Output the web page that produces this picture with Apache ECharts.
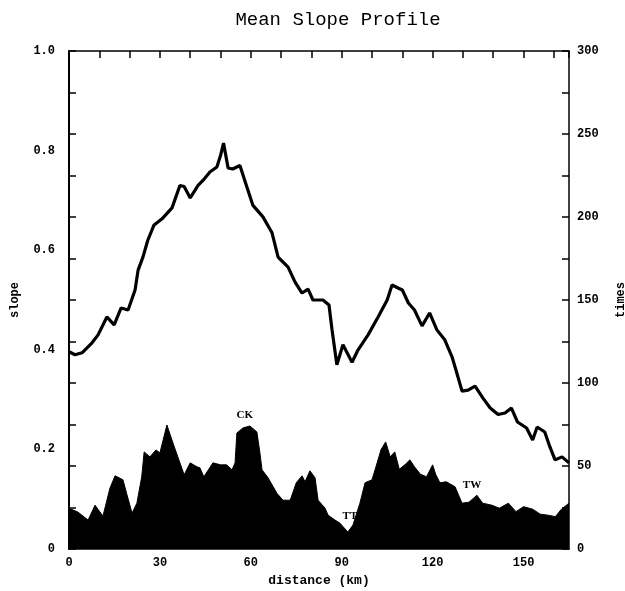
<!DOCTYPE html>
<html>
<head>
<meta charset="utf-8">
<script src="https://cdn.jsdelivr.net/npm/echarts@6/dist/echarts.min.js"></script>
<style>html,body{margin:0;padding:0;background:#fff}#c{width:625px;height:591px}</style>
</head>
<body>
<div id="c"></div>
<script>
// distance (km) and mean slope for the profile line
var lineKm = [0,2,4.3,7.6,9.6,12.5,14.9,17.2,19.5,21.8,22.8,24.4,26,28,30.7,34,36.6,38,40,42.6,44.2,46.5,48.8,50,51,52.5,54,56.4,58.7,60.7,64,67,69,72.3,74.6,76.9,78.9,80.5,83.8,85.8,86.8,88.4,90.4,93.4,95.4,98.7,102,105,106.6,108.6,110,112,114,116.5,119,121.4,124,126.4,128,129.7,131.7,134,136.6,139,141.6,143.9,146,148,151,153,154.5,157,158.7,160.4,162.7,165];
var slopeVals = [0.396,0.39,0.394,0.414,0.43,0.466,0.45,0.484,0.48,0.52,0.56,0.586,0.62,0.65,0.663,0.685,0.73,0.728,0.705,0.73,0.74,0.757,0.767,0.79,0.815,0.765,0.763,0.77,0.727,0.69,0.667,0.635,0.586,0.566,0.536,0.514,0.522,0.5,0.5,0.49,0.44,0.37,0.41,0.375,0.4,0.43,0.466,0.5,0.53,0.524,0.52,0.494,0.48,0.448,0.474,0.44,0.42,0.386,0.353,0.317,0.319,0.327,0.303,0.283,0.27,0.273,0.283,0.255,0.243,0.219,0.245,0.235,0.205,0.179,0.185,0.173];
// distance (km) and times for the filled area
var areaKm = [0,3,6.3,8.6,11.2,13.5,15.2,17.8,19,20.8,22.4,24,24.8,26.7,28.7,30,32.3,34.3,36.6,38,40,42.2,43.2,44.5,47.5,50,52,53.8,54.8,55.4,57.4,59.7,62,63,63.7,65.7,68.6,70.6,73,75,76.9,77.9,79.5,81.2,82.2,84.5,85.5,87.8,89.4,92,93.7,96,97.7,100,101,103,104.5,106,107.5,109,111,112.5,114,116,118,120,121,122.4,124.5,127.4,129.7,132,134.6,136.5,139.5,142,145,147.5,150,153,155.5,158,160.5,162.5,165];
var timesVals = [24.6,22.2,17.4,26.4,19.8,36.6,44.1,41.7,33.6,21.6,27.6,43.5,58.5,55.5,59.7,57.9,74.7,63.9,51.9,44.7,51.9,49.5,48.9,43.5,51.9,50.7,50.7,47.7,51.9,69.9,72.9,74.1,70.5,57.9,47.7,42.9,33.6,29.4,29.4,39.9,44.1,40.5,47.1,42.9,29.4,24.6,20.4,17.4,15.6,10.2,14.4,27.6,39.9,41.7,47.7,60,64.5,55.5,58.5,48,51,53.7,49.5,45,43.5,50.7,45,39.9,40.5,37.5,27.6,28.2,32.4,27.6,26.4,24.6,27.6,22.5,25.5,24,21,20.4,19.5,24,27.6];
// annotations (name, km, times)
var noteNames = ['CK','TT','TW'];
var noteKm = [58,92.7,133];
var noteTimes = [80.7,20,38.6];

var FONT = '"Liberation Mono", "DejaVu Sans Mono", monospace';
var linePts = lineKm.map(function(k,i){return [k, slopeVals[i]];});
var areaPts = areaKm.map(function(k,i){return [k, timesVals[i]];});
var notes = noteNames.map(function(n,i){return {name:n, coord:[noteKm[i], noteTimes[i]], value:n};});

var chart = echarts.init(document.getElementById('c'), null, {renderer:'canvas'});
var axisLabelStyle = {color:'#000', fontFamily:FONT, fontSize:12, fontWeight:'bold'};
function tickStyle(){ return {show:true, inside:true, length:7, lineStyle:{color:'#000', width:1.5}}; }
function lineStyleAx(show, w){ return {show:show, onZero:false, lineStyle:{color:'#000', width:w}}; }
var gridBox = {left:69, right:56, top:51, bottom:42, show:false, containLabel:false, outerBoundsMode:'none'};
chart.setOption({
  animation:false,
  backgroundColor:'#fff',
  title:{text:'Mean Slope Profile', left:333, textAlign:'center', top:5,
    textStyle:{fontFamily:FONT, fontSize:19, fontWeight:'normal', color:'#000'}},
  grid:[gridBox, Object.assign({}, gridBox)],
  xAxis:[{
    type:'value', gridIndex:0, min:0, max:165, interval:10, position:'bottom',
    name:'distance (km)', nameLocation:'middle', nameGap:24,
    nameTextStyle:{color:'#000', fontFamily:FONT, fontSize:13, fontWeight:'bold'},
    axisLine:lineStyleAx(true, 1.5),
    axisTick:tickStyle(),
    axisLabel:Object.assign({showMaxLabel:false, margin:8, formatter:function(v){return v%30===0?String(v):'';}}, axisLabelStyle),
    splitLine:{show:false}
  },{
    type:'value', gridIndex:0, min:0, max:165, interval:10, position:'top',
    axisLine:lineStyleAx(true, 1.5),
    axisTick:tickStyle(),
    axisLabel:{show:false}, splitLine:{show:false}
  },{
    type:'value', gridIndex:1, min:0, max:165, show:false
  }],
  yAxis:[{
    type:'value', gridIndex:0, min:0, max:1, interval:0.2, position:'left',
    name:'slope', nameLocation:'middle', nameGap:48, nameRotate:90,
    nameTextStyle:{color:'#000', fontFamily:FONT, fontSize:12, fontWeight:'bold'},
    axisLine:lineStyleAx(true, 2),
    axisTick:{show:false},
    axisLabel:Object.assign({margin:14, formatter:function(v){return v===0?'0':v.toFixed(1);}}, axisLabelStyle),
    splitLine:{show:false}
  },{
    type:'value', gridIndex:0, min:0, max:300, interval:25, position:'right',
    name:'times', nameLocation:'middle', nameGap:46, nameRotate:90,
    nameTextStyle:{color:'#000', fontFamily:FONT, fontSize:12, fontWeight:'bold'},
    axisLine:lineStyleAx(true, 1.5),
    axisTick:tickStyle(),
    axisLabel:Object.assign({margin:8, formatter:function(v){return v%50===0?String(v):'';}}, axisLabelStyle),
    splitLine:{show:false}
  },{
    type:'value', gridIndex:1, min:0, max:300, interval:25, position:'left',
    axisLine:lineStyleAx(false, 1), axisTick:tickStyle(),
    axisLabel:{show:false}, splitLine:{show:false}
  }],
  series:[{
    type:'line', name:'times', xAxisIndex:0, yAxisIndex:1, data:areaPts,
    symbol:'none', lineStyle:{color:'#000', width:1}, areaStyle:{color:'#000', opacity:1},
    markPoint:{symbol:'circle', symbolSize:0, data:notes,
      label:{show:true, position:'inside', formatter:'{b}', color:'#000', fontFamily:'"Liberation Serif", serif', fontSize:11, fontWeight:'bold'}},
    z:2
  },{
    type:'line', name:'slope', xAxisIndex:0, yAxisIndex:0, data:linePts,
    symbol:'none', lineStyle:{color:'#000', width:3.2}, z:3
  }]
});
</script>
</body>
</html>
